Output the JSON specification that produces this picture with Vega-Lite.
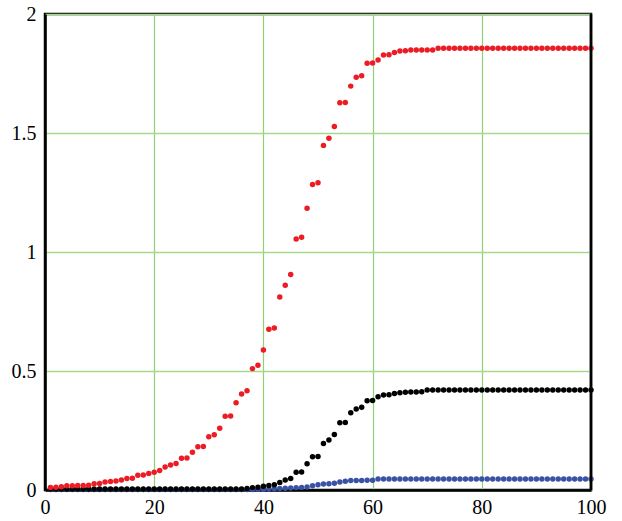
{
  "$schema": "https://vega.github.io/schema/vega-lite/v6.json",
  "width": 546,
  "height": 476,
  "autosize": "none",
  "padding": {"left": 45, "top": 14, "right": 31, "bottom": 31},
  "background": "white",
  "config": {"view": {"stroke": "#000", "strokeWidth": 2.5}},
  "datasets": {
    "one": [{}],
    "pts": [
      {"s":"M-3","n":1,"v":0.002},{"s":"M-3","n":2,"v":0.002},{"s":"M-3","n":3,"v":0.002},{"s":"M-3","n":4,"v":0.002},{"s":"M-3","n":5,"v":0.002},{"s":"M-3","n":6,"v":0.002},{"s":"M-3","n":7,"v":0.002},{"s":"M-3","n":8,"v":0.002},{"s":"M-3","n":9,"v":0.002},{"s":"M-3","n":10,"v":0.002},
      {"s":"M-3","n":11,"v":0.002},{"s":"M-3","n":12,"v":0.002},{"s":"M-3","n":13,"v":0.002},{"s":"M-3","n":14,"v":0.002},{"s":"M-3","n":15,"v":0.002},{"s":"M-3","n":16,"v":0.002},{"s":"M-3","n":17,"v":0.002},{"s":"M-3","n":18,"v":0.002},{"s":"M-3","n":19,"v":0.002},{"s":"M-3","n":20,"v":0.002},
      {"s":"M-3","n":21,"v":0.002},{"s":"M-3","n":22,"v":0.002},{"s":"M-3","n":23,"v":0.002},{"s":"M-3","n":24,"v":0.002},{"s":"M-3","n":25,"v":0.002},{"s":"M-3","n":26,"v":0.002},{"s":"M-3","n":27,"v":0.002},{"s":"M-3","n":28,"v":0.002},{"s":"M-3","n":29,"v":0.002},{"s":"M-3","n":30,"v":0.002},
      {"s":"M-3","n":31,"v":0.002},{"s":"M-3","n":32,"v":0.002},{"s":"M-3","n":33,"v":0.002},{"s":"M-3","n":34,"v":0.002},{"s":"M-3","n":35,"v":0.002},{"s":"M-3","n":36,"v":0.002},{"s":"M-3","n":37,"v":0.002},{"s":"M-3","n":38,"v":0.002},{"s":"M-3","n":39,"v":0.003},{"s":"M-3","n":40,"v":0.003},
      {"s":"M-3","n":41,"v":0.004},{"s":"M-3","n":42,"v":0.005},{"s":"M-3","n":43,"v":0.006},{"s":"M-3","n":44,"v":0.007},{"s":"M-3","n":45,"v":0.008},{"s":"M-3","n":46,"v":0.010},{"s":"M-3","n":47,"v":0.011},{"s":"M-3","n":48,"v":0.013},{"s":"M-3","n":49,"v":0.018},{"s":"M-3","n":50,"v":0.022},
      {"s":"M-3","n":51,"v":0.025},{"s":"M-3","n":52,"v":0.026},{"s":"M-3","n":53,"v":0.028},{"s":"M-3","n":54,"v":0.034},{"s":"M-3","n":55,"v":0.037},{"s":"M-3","n":56,"v":0.040},{"s":"M-3","n":57,"v":0.040},{"s":"M-3","n":58,"v":0.040},{"s":"M-3","n":59,"v":0.041},{"s":"M-3","n":60,"v":0.041},
      {"s":"M-3","n":61,"v":0.046},{"s":"M-3","n":62,"v":0.046},{"s":"M-3","n":63,"v":0.046},{"s":"M-3","n":64,"v":0.046},{"s":"M-3","n":65,"v":0.046},{"s":"M-3","n":66,"v":0.046},{"s":"M-3","n":67,"v":0.046},{"s":"M-3","n":68,"v":0.046},{"s":"M-3","n":69,"v":0.046},{"s":"M-3","n":70,"v":0.046},
      {"s":"M-3","n":71,"v":0.046},{"s":"M-3","n":72,"v":0.046},{"s":"M-3","n":73,"v":0.046},{"s":"M-3","n":74,"v":0.046},{"s":"M-3","n":75,"v":0.046},{"s":"M-3","n":76,"v":0.046},{"s":"M-3","n":77,"v":0.046},{"s":"M-3","n":78,"v":0.046},{"s":"M-3","n":79,"v":0.046},{"s":"M-3","n":80,"v":0.046},
      {"s":"M-3","n":81,"v":0.046},{"s":"M-3","n":82,"v":0.046},{"s":"M-3","n":83,"v":0.046},{"s":"M-3","n":84,"v":0.046},{"s":"M-3","n":85,"v":0.046},{"s":"M-3","n":86,"v":0.046},{"s":"M-3","n":87,"v":0.046},{"s":"M-3","n":88,"v":0.046},{"s":"M-3","n":89,"v":0.046},{"s":"M-3","n":90,"v":0.046},
      {"s":"M-3","n":91,"v":0.046},{"s":"M-3","n":92,"v":0.046},{"s":"M-3","n":93,"v":0.046},{"s":"M-3","n":94,"v":0.046},{"s":"M-3","n":95,"v":0.046},{"s":"M-3","n":96,"v":0.046},{"s":"M-3","n":97,"v":0.046},{"s":"M-3","n":98,"v":0.046},{"s":"M-3","n":99,"v":0.046},{"s":"M-3","n":100,"v":0.046},

      {"s":"H-3","n":1,"v":0.004},{"s":"H-3","n":2,"v":0.004},{"s":"H-3","n":3,"v":0.004},{"s":"H-3","n":4,"v":0.004},{"s":"H-3","n":5,"v":0.004},{"s":"H-3","n":6,"v":0.004},{"s":"H-3","n":7,"v":0.004},{"s":"H-3","n":8,"v":0.004},{"s":"H-3","n":9,"v":0.004},{"s":"H-3","n":10,"v":0.004},
      {"s":"H-3","n":11,"v":0.004},{"s":"H-3","n":12,"v":0.004},{"s":"H-3","n":13,"v":0.004},{"s":"H-3","n":14,"v":0.004},{"s":"H-3","n":15,"v":0.004},{"s":"H-3","n":16,"v":0.004},{"s":"H-3","n":17,"v":0.004},{"s":"H-3","n":18,"v":0.004},{"s":"H-3","n":19,"v":0.004},{"s":"H-3","n":20,"v":0.004},
      {"s":"H-3","n":21,"v":0.004},{"s":"H-3","n":22,"v":0.004},{"s":"H-3","n":23,"v":0.004},{"s":"H-3","n":24,"v":0.004},{"s":"H-3","n":25,"v":0.004},{"s":"H-3","n":26,"v":0.004},{"s":"H-3","n":27,"v":0.004},{"s":"H-3","n":28,"v":0.004},{"s":"H-3","n":29,"v":0.004},{"s":"H-3","n":30,"v":0.004},
      {"s":"H-3","n":31,"v":0.004},{"s":"H-3","n":32,"v":0.004},{"s":"H-3","n":33,"v":0.004},{"s":"H-3","n":34,"v":0.004},{"s":"H-3","n":35,"v":0.004},{"s":"H-3","n":36,"v":0.004},{"s":"H-3","n":37,"v":0.006},{"s":"H-3","n":38,"v":0.010},{"s":"H-3","n":39,"v":0.012},{"s":"H-3","n":40,"v":0.016},
      {"s":"H-3","n":41,"v":0.019},{"s":"H-3","n":42,"v":0.022},{"s":"H-3","n":43,"v":0.032},{"s":"H-3","n":44,"v":0.042},{"s":"H-3","n":45,"v":0.048},{"s":"H-3","n":46,"v":0.075},{"s":"H-3","n":47,"v":0.076},{"s":"H-3","n":48,"v":0.110},{"s":"H-3","n":49,"v":0.140},{"s":"H-3","n":50,"v":0.141},
      {"s":"H-3","n":51,"v":0.195},{"s":"H-3","n":52,"v":0.210},{"s":"H-3","n":53,"v":0.233},{"s":"H-3","n":54,"v":0.283},{"s":"H-3","n":55,"v":0.284},{"s":"H-3","n":56,"v":0.325},{"s":"H-3","n":57,"v":0.340},{"s":"H-3","n":58,"v":0.348},{"s":"H-3","n":59,"v":0.375},{"s":"H-3","n":60,"v":0.376},
      {"s":"H-3","n":61,"v":0.392},{"s":"H-3","n":62,"v":0.399},{"s":"H-3","n":63,"v":0.400},{"s":"H-3","n":64,"v":0.405},{"s":"H-3","n":65,"v":0.409},{"s":"H-3","n":66,"v":0.411},{"s":"H-3","n":67,"v":0.412},{"s":"H-3","n":68,"v":0.412},{"s":"H-3","n":69,"v":0.413},{"s":"H-3","n":70,"v":0.420},
      {"s":"H-3","n":71,"v":0.420},{"s":"H-3","n":72,"v":0.420},{"s":"H-3","n":73,"v":0.420},{"s":"H-3","n":74,"v":0.420},{"s":"H-3","n":75,"v":0.420},{"s":"H-3","n":76,"v":0.420},{"s":"H-3","n":77,"v":0.420},{"s":"H-3","n":78,"v":0.420},{"s":"H-3","n":79,"v":0.420},{"s":"H-3","n":80,"v":0.420},
      {"s":"H-3","n":81,"v":0.420},{"s":"H-3","n":82,"v":0.420},{"s":"H-3","n":83,"v":0.420},{"s":"H-3","n":84,"v":0.420},{"s":"H-3","n":85,"v":0.420},{"s":"H-3","n":86,"v":0.420},{"s":"H-3","n":87,"v":0.420},{"s":"H-3","n":88,"v":0.420},{"s":"H-3","n":89,"v":0.420},{"s":"H-3","n":90,"v":0.420},
      {"s":"H-3","n":91,"v":0.420},{"s":"H-3","n":92,"v":0.420},{"s":"H-3","n":93,"v":0.420},{"s":"H-3","n":94,"v":0.420},{"s":"H-3","n":95,"v":0.420},{"s":"H-3","n":96,"v":0.420},{"s":"H-3","n":97,"v":0.420},{"s":"H-3","n":98,"v":0.420},{"s":"H-3","n":99,"v":0.420},{"s":"H-3","n":100,"v":0.420},

      {"s":"MH-1","n":1,"v":0.011},{"s":"MH-1","n":2,"v":0.012},{"s":"MH-1","n":3,"v":0.014},{"s":"MH-1","n":4,"v":0.018},{"s":"MH-1","n":5,"v":0.018},{"s":"MH-1","n":6,"v":0.019},{"s":"MH-1","n":7,"v":0.019},{"s":"MH-1","n":8,"v":0.020},{"s":"MH-1","n":9,"v":0.026},{"s":"MH-1","n":10,"v":0.027},
      {"s":"MH-1","n":11,"v":0.034},{"s":"MH-1","n":12,"v":0.036},{"s":"MH-1","n":13,"v":0.038},{"s":"MH-1","n":14,"v":0.042},{"s":"MH-1","n":15,"v":0.048},{"s":"MH-1","n":16,"v":0.049},{"s":"MH-1","n":17,"v":0.062},{"s":"MH-1","n":18,"v":0.063},{"s":"MH-1","n":19,"v":0.069},{"s":"MH-1","n":20,"v":0.075},
      {"s":"MH-1","n":21,"v":0.082},{"s":"MH-1","n":22,"v":0.097},{"s":"MH-1","n":23,"v":0.105},{"s":"MH-1","n":24,"v":0.111},{"s":"MH-1","n":25,"v":0.133},{"s":"MH-1","n":26,"v":0.134},{"s":"MH-1","n":27,"v":0.159},{"s":"MH-1","n":28,"v":0.182},{"s":"MH-1","n":29,"v":0.183},{"s":"MH-1","n":30,"v":0.224},
      {"s":"MH-1","n":31,"v":0.232},{"s":"MH-1","n":32,"v":0.259},{"s":"MH-1","n":33,"v":0.310},{"s":"MH-1","n":34,"v":0.311},{"s":"MH-1","n":35,"v":0.367},{"s":"MH-1","n":36,"v":0.403},{"s":"MH-1","n":37,"v":0.417},{"s":"MH-1","n":38,"v":0.510},{"s":"MH-1","n":39,"v":0.524},{"s":"MH-1","n":40,"v":0.588},
      {"s":"MH-1","n":41,"v":0.675},{"s":"MH-1","n":42,"v":0.681},{"s":"MH-1","n":43,"v":0.811},{"s":"MH-1","n":44,"v":0.860},{"s":"MH-1","n":45,"v":0.905},{"s":"MH-1","n":46,"v":1.055},{"s":"MH-1","n":47,"v":1.062},{"s":"MH-1","n":48,"v":1.184},{"s":"MH-1","n":49,"v":1.284},{"s":"MH-1","n":50,"v":1.291},
      {"s":"MH-1","n":51,"v":1.448},{"s":"MH-1","n":52,"v":1.478},{"s":"MH-1","n":53,"v":1.527},{"s":"MH-1","n":54,"v":1.627},{"s":"MH-1","n":55,"v":1.628},{"s":"MH-1","n":56,"v":1.697},{"s":"MH-1","n":57,"v":1.734},{"s":"MH-1","n":58,"v":1.741},{"s":"MH-1","n":59,"v":1.793},{"s":"MH-1","n":60,"v":1.794},
      {"s":"MH-1","n":61,"v":1.807},{"s":"MH-1","n":62,"v":1.828},{"s":"MH-1","n":63,"v":1.829},{"s":"MH-1","n":64,"v":1.838},{"s":"MH-1","n":65,"v":1.845},{"s":"MH-1","n":66,"v":1.846},{"s":"MH-1","n":67,"v":1.849},{"s":"MH-1","n":68,"v":1.849},{"s":"MH-1","n":69,"v":1.849},{"s":"MH-1","n":70,"v":1.849},
      {"s":"MH-1","n":71,"v":1.849},{"s":"MH-1","n":72,"v":1.856},{"s":"MH-1","n":73,"v":1.856},{"s":"MH-1","n":74,"v":1.856},{"s":"MH-1","n":75,"v":1.856},{"s":"MH-1","n":76,"v":1.856},{"s":"MH-1","n":77,"v":1.856},{"s":"MH-1","n":78,"v":1.856},{"s":"MH-1","n":79,"v":1.856},{"s":"MH-1","n":80,"v":1.856},
      {"s":"MH-1","n":81,"v":1.856},{"s":"MH-1","n":82,"v":1.856},{"s":"MH-1","n":83,"v":1.856},{"s":"MH-1","n":84,"v":1.856},{"s":"MH-1","n":85,"v":1.856},{"s":"MH-1","n":86,"v":1.856},{"s":"MH-1","n":87,"v":1.856},{"s":"MH-1","n":88,"v":1.856},{"s":"MH-1","n":89,"v":1.856},{"s":"MH-1","n":90,"v":1.856},
      {"s":"MH-1","n":91,"v":1.856},{"s":"MH-1","n":92,"v":1.856},{"s":"MH-1","n":93,"v":1.856},{"s":"MH-1","n":94,"v":1.856},{"s":"MH-1","n":95,"v":1.856},{"s":"MH-1","n":96,"v":1.856},{"s":"MH-1","n":97,"v":1.856},{"s":"MH-1","n":98,"v":1.856},{"s":"MH-1","n":99,"v":1.856},{"s":"MH-1","n":100,"v":1.856}
    ]
  },
  "layer": [
    {
      "data": {"name": "pts"},
      "mark": {"type": "circle", "size": 30, "opacity": 1},
      "encoding": {
        "x": {
          "field": "n", "type": "quantitative",
          "scale": {"domain": [0, 100], "nice": false, "zero": false},
          "axis": {
            "title": null, "values": [0, 20, 40, 60, 80, 100],
            "ticks": false, "domain": true, "domainColor": "#000", "domainWidth": 2.5, "labelFlush": false,
            "labelFont": "Liberation Serif", "labelFontSize": 20, "labelColor": "#000",
            "labelPadding": 7,
            "grid": true, "gridColor": "#8fd172", "gridWidth": 1.2, "gridOpacity": 1
          }
        },
        "y": {
          "field": "v", "type": "quantitative",
          "scale": {"domain": [0, 2], "nice": false},
          "axis": {
            "title": null, "values": [0, 0.5, 1, 1.5, 2], "format": "~g",
            "ticks": false, "domain": true, "domainColor": "#000", "domainWidth": 2.5,
            "labelFont": "Liberation Serif", "labelFontSize": 20, "labelColor": "#000",
            "labelPadding": 9,
            "grid": true, "gridColor": "#a3d98a", "gridWidth": 1.5, "gridOpacity": 1
          }
        },
        "color": {
          "field": "s", "type": "nominal",
          "scale": {"domain": ["MH-1", "H-3", "M-3"], "range": ["#ec1c24", "#000000", "#3a52a3"]},
          "legend": null
        }
      }
    },
    {
      "data": {"name": "one"},
      "mark": {"type": "rule", "color": "#000", "strokeWidth": 2.5},
      "encoding": {"x": {"datum": 100, "type": "quantitative"}, "y": {"datum": 0, "type": "quantitative"}, "y2": {"datum": 2}}
    }
  ]
}
